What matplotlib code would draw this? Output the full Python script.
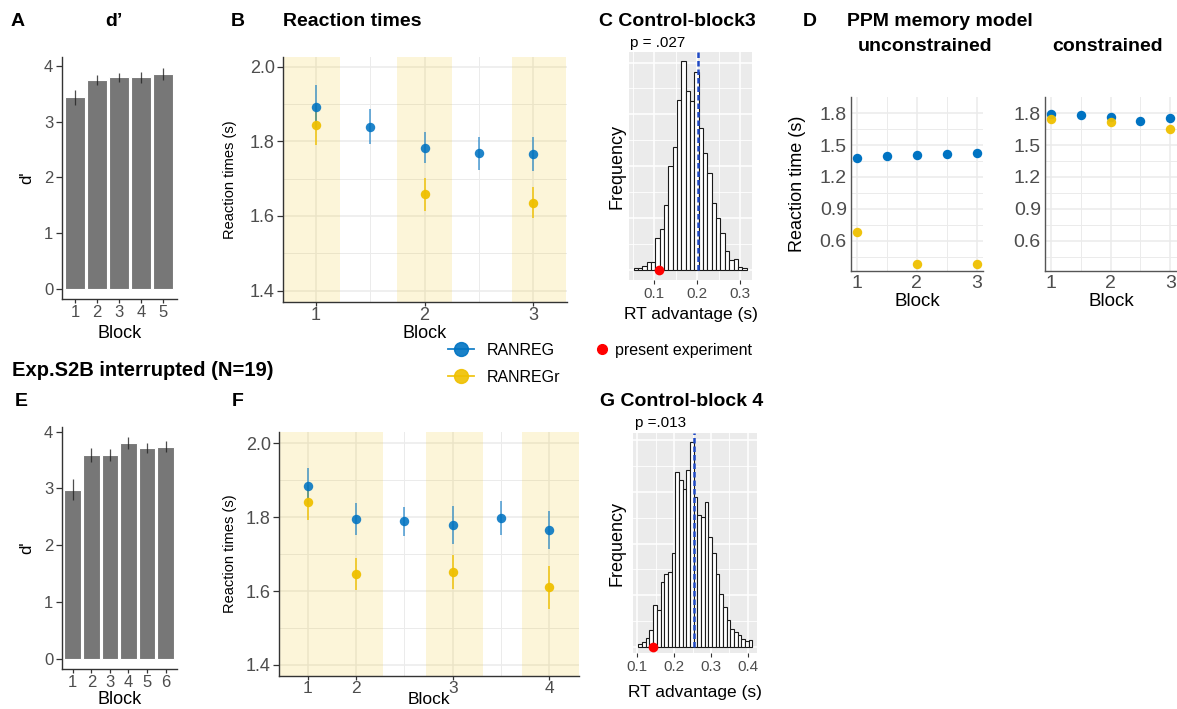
import matplotlib
matplotlib.use('Agg')
import matplotlib.pyplot as plt
import numpy as np
from matplotlib.lines import Line2D

plt.rcParams['font.family'] = ['Liberation Sans', 'DejaVu Sans']

# ---- data ----
blocks_a = [1, 2, 3, 4, 5]
dprime_a = [3.44, 3.76, 3.80, 3.80, 3.86]
dprime_a_err = [0.13, 0.09, 0.08, 0.10, 0.10]

blocks_e = [1, 2, 3, 4, 5, 6]
dprime_e = [2.98, 3.59, 3.59, 3.80, 3.71, 3.74]
dprime_e_err = [0.18, 0.13, 0.11, 0.10, 0.09, 0.10]

# panel B (uninterrupted)
ranreg_x_b = [1, 1.5, 2, 2.5, 3]
ranreg_b = [1.893, 1.839, 1.783, 1.768, 1.766]
ranreg_b_err = [0.058, 0.047, 0.041, 0.045, 0.046]
ranregr_x_b = [1, 2, 3]
ranregr_b = [1.844, 1.658, 1.636]
ranregr_b_err = [0.054, 0.045, 0.042]
shade_b = [(0.70, 1.22), (1.75, 2.25), (2.80, 3.30)]

# panel F (interrupted)
ranreg_x_f = [1, 2, 3, 4, 5, 6]
ranreg_f = [1.884, 1.795, 1.789, 1.779, 1.799, 1.765]
ranreg_f_err = [0.050, 0.043, 0.039, 0.051, 0.046, 0.052]
ranregr_x_f = [1, 2, 4, 6]
ranregr_f = [1.840, 1.646, 1.652, 1.610]
ranregr_f_err = [0.048, 0.043, 0.046, 0.059]
f_tick_pos = [1, 2, 4, 6]
f_tick_lab = ['1', '2', '3', '4']
shade_f = [(0.41, 2.56), (3.45, 4.63), (5.43, 6.62)]

# panel C histogram (permutation null)
c_edges = np.linspace(0.052, 0.315, 27)
c_counts = [3, 3, 8, 15, 15, 61, 79, 126, 201, 237, 328, 403, 345, 326,
            381, 274, 226, 187, 129, 100, 71, 37, 19, 21, 6, 3]
c_line = 0.203
c_obs = 0.111

# panel G histogram
g_edges = np.linspace(0.103, 0.413, 32)
g_counts = [5, 10, 17, 32, 81, 71, 126, 142, 145, 181, 339, 323, 306, 342,
            397, 290, 255, 252, 281, 213, 181, 142, 103, 77, 52, 35, 29,
            23, 16, 12, 14]
g_line = 0.254
g_obs = 0.143

# panel D (PPM model)
ppm_x = [1, 1.5, 2, 2.5, 3]
ppm_x_r = [1, 2, 3]
unc_ranreg = [1.376, 1.400, 1.407, 1.413, 1.423]
unc_ranregr = [0.684, 0.377, 0.380]
con_ranreg = [1.793, 1.781, 1.768, 1.730, 1.753]
con_ranregr = [1.746, 1.715, 1.649]

BLUE = '#0073C2'
YELLOW = '#EFC000'
TICKC = '#4D4D4D'
AXC = '#333333'

W, H = 1177, 709
fig = plt.figure(figsize=(W / 100, H / 100), dpi=100)


def box(x0, y0, x1, y1):
    ax = fig.add_axes([x0 / W, 1 - y1 / H, (x1 - x0) / W, (y1 - y0) / H])
    ax._px = (x0, y0, x1, y1)
    return ax


def put_labels(ax, xlab_y=None, ylab_x=None):
    x0, y0, x1, y1 = ax._px
    if xlab_y is not None:
        ax.xaxis.set_label_coords(0.5, (y1 - xlab_y) / (y1 - y0))
        ax.xaxis.label.set_va('center')
    if ylab_x is not None:
        ax.yaxis.set_label_coords((ylab_x - x0) / (x1 - x0), 0.5)
        ax.yaxis.label.set_va('center')


def ftext(x, y, s, **kw):
    fig.text(x / W, 1 - y / H, s, va='center', **kw)


def classic(ax, size):
    for s in ['top', 'right']:
        ax.spines[s].set_visible(False)
    for s in ['left', 'bottom']:
        ax.spines[s].set_color(AXC)
        ax.spines[s].set_linewidth(1.0)
    ax.tick_params(colors=AXC, labelcolor=TICKC, labelsize=size, length=4,
                   width=0.9, pad=2)


# ---- A and E: d' bars ----
def dprime_panel(ax, blocks, vals, errs):
    ax.bar(blocks, vals, width=0.9, color='#777777', edgecolor='white',
           linewidth=0.8)
    ax.errorbar(blocks, vals, yerr=errs, fmt='none', ecolor='#222222',
                elinewidth=0.9, alpha=0.8)
    ax.set_xlim(0.4, len(blocks) + 0.6)
    ax.set_xticks(blocks)
    ax.set_yticks([0, 1, 2, 3, 4])
    classic(ax, 12)
    ax.tick_params(axis='x', length=3, pad=1)
    ax.set_xlabel('Block', fontsize=13)
    ax.set_ylabel("d'", fontsize=12)


axA = box(61.7, 56.7, 176.7, 299.3)
dprime_panel(axA, blocks_a, dprime_a, dprime_a_err)
axA.set_ylim(-0.19, 4.17)
put_labels(axA, 334, 27)

axE = box(61.7, 426.7, 176.7, 669.3)
dprime_panel(axE, blocks_e, dprime_e, dprime_e_err)
axE.set_ylim(-0.19, 4.09)
put_labels(axE, 700, 27)


# ---- B and F: reaction times ----
def rt_panel(ax, shades, bx, by, be, yx, yy, ye):
    ax.set_axisbelow(True)
    for a, b in shades:
        ax.axvspan(a, b, color=YELLOW, alpha=0.15, lw=0, zorder=1)
    ax.errorbar(yx, yy, yerr=ye, fmt='none', ecolor=YELLOW, elinewidth=1.3,
                alpha=0.8, zorder=2)
    ax.errorbar(bx, by, yerr=be, fmt='none', ecolor=BLUE, elinewidth=1.3,
                alpha=0.6, zorder=2)
    ax.plot(yx, yy, 'o', color=YELLOW, ms=6.8, mew=0, alpha=0.95, zorder=3)
    ax.plot(bx, by, 'o', color=BLUE, ms=6.8, mew=0, alpha=0.88, zorder=3)
    ax.set_yticks([1.4, 1.6, 1.8, 2.0])
    ax.set_yticks([1.5, 1.7, 1.9], minor=True)
    ax.grid(True, which='major', color='#EBEBEB', lw=1.1)
    ax.grid(True, which='minor', color='#EBEBEB', lw=0.7)
    classic(ax, 13)
    ax.tick_params(axis='x', which='major', length=3, pad=1)
    ax.tick_params(which='minor', length=0)
    ax.set_xlabel('Block', fontsize=13)
    ax.set_ylabel('Reaction times (s)', fontsize=10.5)


axB = box(283.3, 56.7, 566.7, 301.7)
rt_panel(axB, shade_b, ranreg_x_b, ranreg_b, ranreg_b_err,
         ranregr_x_b, ranregr_b, ranregr_b_err)
axB.set_xlim(0.70, 3.307)
axB.set_ylim(1.370, 2.027)
axB.set_xticks([1, 2, 3])
axB.set_xticks([1.5, 2.5], minor=True)
put_labels(axB, 334, 230)

axF = box(279.3, 432.3, 579.3, 675.7)
rt_panel(axF, shade_f, ranreg_x_f, ranreg_f, ranreg_f_err,
         ranregr_x_f, ranregr_f, ranregr_f_err)
axF.set_xlim(0.41, 6.62)
axF.set_ylim(1.371, 2.030)
axF.set_xticks(f_tick_pos)
axF.set_xticklabels(f_tick_lab)
axF.set_xticks([3, 5], minor=True)
axF.tick_params(axis='x', labelsize=12.5, pad=0.5)
axF.xaxis.label.set_fontsize(12.5)
put_labels(axF, 699.5, 230)


# ---- C and G: histograms ----
def hist_panel(ax, edges, counts, line_x, obs_x, top):
    ax.set_facecolor('#EBEBEB')
    for s in ax.spines.values():
        s.set_visible(False)
    ax.set_axisbelow(True)
    ax.bar(edges[:-1], counts, width=np.diff(edges), align='edge',
           color='white', edgecolor='#1A1A1A', linewidth=0.8, zorder=2)
    ax.vlines(line_x, 0, top, colors='#1F49C4', linestyles=(0, (2.2, 1.2)),
              lw=1.8, zorder=3)
    ax.plot([obs_x], [0], 'o', color='#FF0000', ms=7, mew=0, zorder=4,
            clip_on=False)
    ax.set_yticks([0, 100, 200, 300, 400])
    ax.set_yticks([50, 150, 250, 350], minor=True)
    ax.set_yticklabels([])
    ax.grid(True, which='major', color='white', lw=1.1)
    ax.grid(True, which='minor', color='white', lw=0.6)
    ax.tick_params(axis='y', which='both', length=0)
    ax.tick_params(axis='x', which='major', colors='#333333',
                   labelcolor=TICKC, labelsize=11, length=3, pad=2)
    ax.tick_params(axis='x', which='minor', length=0)
    ax.set_xlabel('RT advantage (s)', fontsize=12.5)
    ax.set_ylabel('Frequency', fontsize=13)


axC = box(629.3, 51.7, 751.7, 280.5)
hist_panel(axC, c_edges, c_counts, c_line, c_obs, 421)
axC.set_xlim(0.042, 0.327)
axC.set_ylim(-20.7, 421)
axC.set_xticks([0.1, 0.2, 0.3])
axC.set_xticks([0.05, 0.15, 0.25], minor=True)
put_labels(axC, 315, 617)

axG = box(633.3, 433.3, 756.7, 653.3)
hist_panel(axG, g_edges, g_counts, g_line, g_obs, 413)
axG.set_xlim(0.089, 0.4245)
axG.set_ylim(-12.2, 413)
axG.set_xticks([0.1, 0.2, 0.3, 0.4])
axG.set_xticks([0.15, 0.25, 0.35], minor=True)
put_labels(axG, 692, 617)


# ---- D: PPM model ----
def ppm_panel(ax, blue_vals, yellow_vals):
    ax.set_axisbelow(True)
    ax.plot(ppm_x, blue_vals, 'o', color=BLUE, ms=6.8, mew=0, zorder=3,
            clip_on=False)
    ax.plot(ppm_x_r, yellow_vals, 'o', color=YELLOW, ms=6.8, mew=0,
            alpha=0.95, zorder=3, clip_on=False)
    ax.set_xlim(0.905, 3.11)
    ax.set_ylim(0.317, 1.951)
    ax.set_xticks([1, 2, 3])
    ax.set_xticks([1.5, 2.5], minor=True)
    ax.set_yticks([0.6, 0.9, 1.2, 1.5, 1.8])
    ax.set_yticks([0.45, 0.75, 1.05, 1.35, 1.65], minor=True)
    ax.grid(True, which='major', color='#EBEBEB', lw=1.1)
    ax.grid(True, which='minor', color='#EBEBEB', lw=0.7)
    for s in ['top', 'right']:
        ax.spines[s].set_visible(False)
    for s in ['left', 'bottom']:
        ax.spines[s].set_color('#555555')
        ax.spines[s].set_linewidth(1.0)
    ax.tick_params(which='both', length=0, labelcolor=TICKC, labelsize=14,
                   pad=3)
    ax.set_xlabel('Block', fontsize=13.5)


axD1 = box(851, 97.3, 983.3, 270.7)
ppm_panel(axD1, unc_ranreg, unc_ranregr)
axD1.set_ylabel('Reaction time (s)', fontsize=13)
put_labels(axD1, 302, 798)

axD2 = box(1045, 97.3, 1177, 270.7)
ppm_panel(axD2, con_ranreg, con_ranregr)
put_labels(axD2, 302)

# ---- titles and panel letters ----
tb = dict(fontsize=14, fontweight='bold', color='black')
ftext(11, 21, 'A', **tb)
ftext(105, 21, 'd\u2019', **tb)
ftext(231, 21, 'B', **tb)
ftext(283, 21, 'Reaction times', **tb)
ftext(599, 22, 'C Control-block3', **tb)
ftext(630, 43, 'p = .027', fontsize=11)
ftext(803, 21, 'D', **tb)
ftext(847, 21, 'PPM memory model', **tb)
ftext(925, 46.5, 'unconstrained', ha='center', **tb)
ftext(1108, 46.5, 'constrained', ha='center', **tb)

ftext(12, 370, 'Exp.S2B interrupted (N=19)', fontsize=14.5,
      fontweight='bold')
ftext(15, 402, 'E', **tb)
ftext(232, 402, 'F', **tb)
ftext(600, 402, 'G Control-block 4', **tb)
ftext(635, 423, 'p =.013', fontsize=11)

# ---- legends ----
handles = [Line2D([], [], color=BLUE, marker='o', ms=10, lw=1.3, alpha=0.9),
           Line2D([], [], color=YELLOW, marker='o', ms=10, lw=1.3, alpha=0.9)]
fig.legend(handles, ['RANREG', 'RANREGr'], loc='center left',
           bbox_to_anchor=(448 / W, 1 - 364 / H), frameon=False, fontsize=11.5,
           handlelength=1.6, handletextpad=0.8, labelspacing=0.75,
           borderpad=0, borderaxespad=0)
fig.legend([Line2D([], [], color='#FF0000', marker='o', ms=7, lw=0)],
           ['present experiment'], loc='center left',
           bbox_to_anchor=(594 / W, 1 - 350 / H), frameon=False,
           fontsize=11.5, handlelength=1.0, handletextpad=0.3,
           borderpad=0, borderaxespad=0)

fig.savefig('out.png', dpi=100)
